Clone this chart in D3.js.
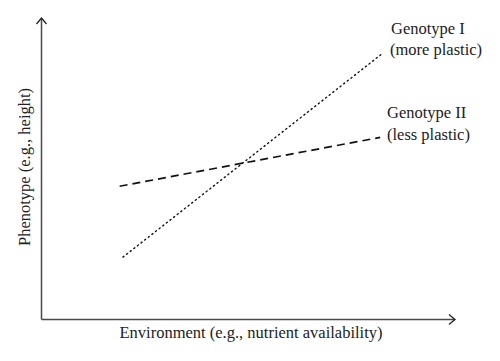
<!DOCTYPE html>
<html><head><meta charset="utf-8">
<script src="https://cdn.jsdelivr.net/npm/d3@7"></script>
<style>body{margin:0;background:#fff}svg{display:block}</style>
</head><body>
<svg id="c" width="500" height="361"></svg>
<script>
// data (arbitrary units)
const series = ["Genotype I", "Genotype II"];
const subLabels = ["(more plastic)", "(less plastic)"];
const envValues = [[19.7, 82.6], [18.9, 81.9]];
const phenoValues = [[20.7, 88.4], [44.2, 60.4]];
const xTitle = "Environment (e.g., nutrient availability)";
const yTitle = "Phenotype (e.g., height)";

const svg = d3.select("#c");
const x = d3.scaleLinear().domain([0, 100]).range([41.5, 455]);
const y = d3.scaleLinear().domain([0, 100]).range([319.5, 18]);
const font = "'Liberation Serif', 'DejaVu Serif', serif";
const axisColor = "#4a4a4a";
const fs = 16.5;

// axes
svg.append("line").attr("x1", x(0)).attr("y1", y(0)).attr("x2", x(100)).attr("y2", y(0))
  .attr("stroke", axisColor).attr("stroke-width", 1.5);
svg.append("line").attr("x1", x(0)).attr("y1", y(0)).attr("x2", x(0)).attr("y2", y(100))
  .attr("stroke", axisColor).attr("stroke-width", 1.5);
// arrowheads
svg.append("path").attr("d", `M${x(100)-6},${y(0)-5} L${x(100)},${y(0)} L${x(100)-6},${y(0)+5}`)
  .attr("fill", "none").attr("stroke", "#222").attr("stroke-width", 1.3);
svg.append("path").attr("d", `M${x(0)-5},${y(100)+6} L${x(0)},${y(100)} L${x(0)+5},${y(100)+6}`)
  .attr("fill", "none").attr("stroke", "#222").attr("stroke-width", 1.3);

const line = d3.line().x(d => x(d[0])).y(d => y(d[1]));
const styles = [
  {dash: "1.2,3.4", width: 1.4, cap: "round"},
  {dash: "8,5", width: 1.7, cap: "butt"}
];
series.forEach((s, i) => {
  const pts = envValues[i].map((e, j) => [e, phenoValues[i][j]]);
  svg.append("path").attr("d", line(pts)).attr("fill", "none")
    .attr("stroke", "#111").attr("stroke-width", styles[i].width)
    .attr("stroke-dasharray", styles[i].dash).attr("stroke-linecap", styles[i].cap);
});

// labels
const labelPos = [[391, 34, 390, 55], [387, 118, 387, 140]];
series.forEach((s, i) => {
  const p = labelPos[i];
  svg.append("text").attr("x", p[0]).attr("y", p[1]).text(s)
    .attr("font-family", font).attr("font-size", fs).attr("fill", "#222");
  svg.append("text").attr("x", p[2]).attr("y", p[3]).text(subLabels[i])
    .attr("font-family", font).attr("font-size", fs).attr("fill", "#222");
});

svg.append("text").attr("x", 251).attr("y", 338).attr("text-anchor", "middle")
  .attr("font-family", font).attr("font-size", fs).attr("fill", "#222").text(xTitle);
svg.append("text").attr("transform", "translate(30,167) rotate(-90)").attr("text-anchor", "middle")
  .attr("font-family", font).attr("font-size", fs).attr("fill", "#222").text(yTitle);
</script>
</body></html>
